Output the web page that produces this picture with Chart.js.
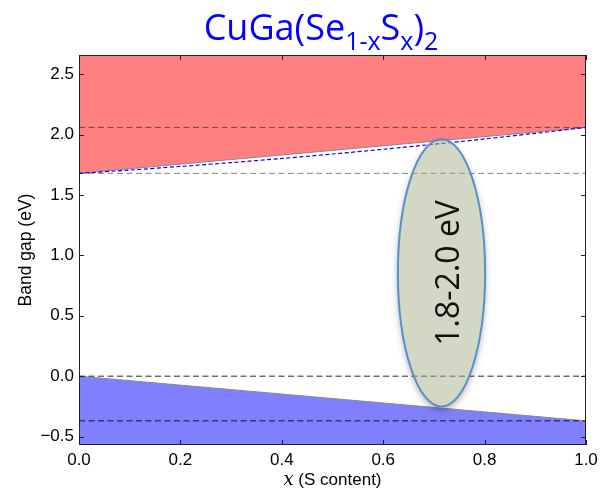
<!DOCTYPE html>
<html>
<head>
<meta charset="utf-8">
<script src="https://cdn.jsdelivr.net/npm/chart.js@4"></script>
<style>
  html, body { margin: 0; padding: 0; background: #fff; }
  #wrap { width: 606px; height: 497px; }
</style>
</head>
<body>
<div id="wrap"><canvas id="gap_chart" width="606" height="497"></canvas></div>
<script>
// composition x (S content)
const xEnds = [0, 1];
const xFine = [0, 0.1, 0.2, 0.3, 0.4, 0.5, 0.6, 0.7, 0.8, 0.9, 1.0];

// band edges (eV)
const cbmLinear = [1.68, 2.06];
const vbmLinear = [0.0, -0.37];
const cbmBowed = [1.68, 1.707, 1.737, 1.769, 1.803, 1.84, 1.879, 1.921, 1.965, 2.011, 2.06];

// reference levels (dashed)
const levelCuGaS2Cbm = 2.06;
const levelCuGaSe2Cbm = 1.68;
const levelCuGaSe2Vbm = 0.0;
const levelCuGaS2Vbm = -0.37;

const xTicks = [0, 0.2, 0.4, 0.6, 0.8, 1.0];
const yTicks = [-0.5, 0, 0.5, 1.0, 1.5, 2.0, 2.5];
const yMin = -0.57, yMax = 2.66;

function pts(xs, ys) { return xs.map((x, i) => ({ x: x, y: ys[i] })); }
function flat(v) { return pts(xEnds, [v, v]); }

var dataSET = {
  datasets: [
    { data: pts(xEnds, cbmLinear), borderColor: '#8a8a8a', borderWidth: 1, backgroundColor: '#ff8080', fill: 'end', pointRadius: 0, order: 5 },
    { data: pts(xEnds, vbmLinear), borderColor: '#8a8a8a', borderWidth: 1, backgroundColor: '#8080ff', fill: 'start', pointRadius: 0, order: 5 },
    { data: flat(levelCuGaS2Cbm), borderColor: 'rgba(0,0,0,0.5)', borderWidth: 1, borderDash: [6, 3.5], fill: false, pointRadius: 0, order: 3 },
    { data: flat(levelCuGaSe2Cbm), borderColor: 'rgba(0,0,0,0.5)', borderWidth: 1, borderDash: [6, 3.5], fill: false, pointRadius: 0, order: 3 },
    { data: flat(levelCuGaSe2Vbm), borderColor: 'rgba(0,0,0,0.85)', borderWidth: 1, borderDash: [6, 3.5], fill: false, pointRadius: 0, order: 3 },
    { data: flat(levelCuGaS2Vbm), borderColor: 'rgba(0,0,0,0.85)', borderWidth: 1, borderDash: [6, 3.5], fill: false, pointRadius: 0, order: 3 },
    { data: pts(xFine, cbmBowed), borderColor: '#0000ff', borderWidth: 1.2, borderDash: [4, 2.5], fill: false, pointRadius: 0, tension: 0.3, order: 1 }
  ]
};

const decor = {
  id: 'decor',
  afterDatasetsDraw(chart) {
    const ctx = chart.ctx, xs = chart.scales.x, ys = chart.scales.y, a = chart.chartArea;

    // highlighted window
    const cx = xs.getPixelForValue(0.715);
    const rx = xs.getPixelForValue(0.715 + 0.086) - cx;
    const top = ys.getPixelForValue(1.963), bot = ys.getPixelForValue(-0.252);
    const cy = (top + bot) / 2, ry = (bot - top) / 2;

    // soft shadow only outside the shape
    ctx.save();
    ctx.beginPath();
    ctx.rect(0, 0, chart.width, chart.height);
    ctx.ellipse(cx, cy, rx, ry, 0, 0, Math.PI * 2);
    ctx.clip('evenodd');
    ctx.shadowColor = 'rgba(0,0,0,0.35)';
    ctx.shadowBlur = 7;
    ctx.shadowOffsetY = 3;
    ctx.beginPath();
    ctx.ellipse(cx, cy, rx, ry, 0, 0, Math.PI * 2);
    ctx.fillStyle = '#fff';
    ctx.fill();
    ctx.restore();

    ctx.save();
    ctx.beginPath();
    ctx.ellipse(cx, cy, rx, ry, 0, 0, Math.PI * 2);
    ctx.fillStyle = 'rgba(167,177,139,0.5)';
    ctx.fill();
    ctx.lineWidth = 2;
    ctx.strokeStyle = '#5b8fcc';
    ctx.stroke();
    ctx.translate(cx + 17, cy);
    ctx.rotate(-Math.PI / 2);
    ctx.fillStyle = '#111';
    ctx.font = '32px "Open Sans"';
    ctx.textAlign = 'center';
    ctx.textBaseline = 'alphabetic';
    ctx.fillText('1.8-2.0 eV', 0, 0);
    ctx.restore();

    // frame and inward ticks on all sides
    ctx.save();
    ctx.strokeStyle = '#222';
    ctx.lineWidth = 1;
    ctx.strokeRect(a.left + 0.5, a.top + 0.5, a.right - a.left - 1, a.bottom - a.top - 1);
    ctx.beginPath();
    xTicks.forEach(v => {
      const p = Math.round(xs.getPixelForValue(v)) + 0.5;
      ctx.moveTo(p, a.bottom); ctx.lineTo(p, a.bottom - 5);
      ctx.moveTo(p, a.top); ctx.lineTo(p, a.top + 5);
    });
    yTicks.forEach(v => {
      const p = Math.round(ys.getPixelForValue(v)) + 0.5;
      ctx.moveTo(a.left, p); ctx.lineTo(a.left + 5, p);
      ctx.moveTo(a.right, p); ctx.lineTo(a.right - 5, p);
    });
    ctx.stroke();
    ctx.restore();
  },
  afterDraw(chart) {
    const ctx = chart.ctx, a = chart.chartArea;
    ctx.save();
    // title with subscripts
    const big = '36px "Open Sans"', small = '25px "Open Sans"';
    const parts = [['CuGa(Se', big, 0], ['1-x', small, 10], ['S', big, 0], ['x', small, 10], [')', big, 0], ['2', small, 10]];
    let w = 0;
    parts.forEach(p => { ctx.font = p[1]; w += ctx.measureText(p[0]).width; });
    let x = 321 - w / 2;
    ctx.fillStyle = '#0000ff';
    ctx.textBaseline = 'alphabetic';
    parts.forEach(p => {
      ctx.font = p[1];
      ctx.fillText(p[0], x, 40 + p[2]);
      x += ctx.measureText(p[0]).width;
    });

    // x axis label with italic x
    ctx.fillStyle = '#000';
    const l1 = 'x', l2 = ' (S content)';
    const f1 = 'italic 18px "DejaVu Serif"', f2 = '17px "Liberation Sans"';
    ctx.font = f1;
    const w1 = ctx.measureText(l1).width;
    ctx.font = f2;
    const w2 = ctx.measureText(l2).width;
    let lx = (a.left + a.right) / 2 - (w1 + w2) / 2;
    ctx.font = f1;
    ctx.fillText(l1, lx, 485);
    ctx.font = f2;
    ctx.fillText(l2, lx + w1, 485);
    ctx.restore();
  }
};

function fmt(v) {
  const s = Math.abs(v).toFixed(1);
  return v < -1e-9 ? '\u2212' + s : s;
}

new Chart(document.getElementById('gap_chart'), {
  type: 'line',
  data: dataSET,
  options: {
    responsive: false,
    animation: false,
    layout: { padding: { left: 0, right: 20, top: 55, bottom: 0 } },
    plugins: { legend: { display: false }, title: { display: false }, tooltip: { enabled: false } },
    scales: {
      x: {
        type: 'linear', min: 0, max: 1,
        grid: { display: false, drawTicks: false },
        border: { display: false },
        afterBuildTicks: s => { s.ticks = xTicks.map(v => ({ value: v })); },
        afterFit: s => { s.height = 52; },
        ticks: { color: '#000', padding: 5, font: { family: 'Liberation Sans', size: 17 }, maxRotation: 0, callback: v => fmt(v) }
      },
      y: {
        type: 'linear', min: yMin, max: yMax,
        grid: { display: false, drawTicks: false },
        border: { display: false },
        afterBuildTicks: s => { s.ticks = yTicks.map(v => ({ value: v })); },
        afterFit: s => { s.width = 79; },
        title: { display: true, text: 'Band gap (eV)', color: '#000', font: { family: 'Liberation Sans', size: 17.5 }, padding: { top: 16, bottom: 0 } },
        ticks: { color: '#000', padding: 5, font: { family: 'Liberation Sans', size: 17 }, callback: v => fmt(v) }
      }
    }
  },
  plugins: [decor]
});
</script>
</body>
</html>
